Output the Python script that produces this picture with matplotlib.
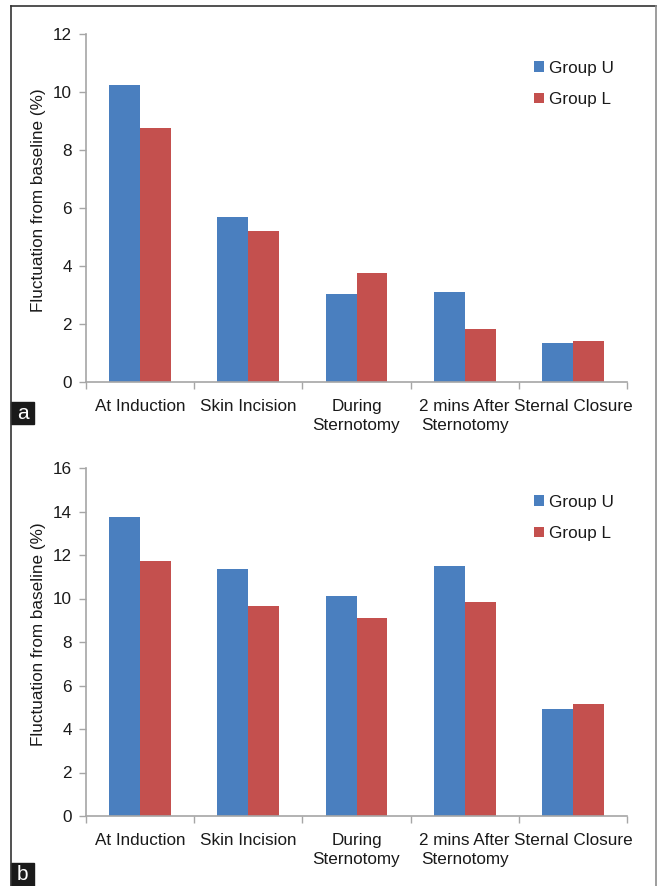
import numpy as np
import matplotlib
matplotlib.use('Agg')
from matplotlib import pyplot as plt
from matplotlib.patches import Rectangle
from matplotlib.lines import Line2D

plt.rcParams['font.family'] = ['Liberation Sans', 'DejaVu Sans']

categories = ['At Induction', 'Skin Incision', 'During\nSternotomy',
              '2 mins After\nSternotomy', 'Sternal Closure']
series_names = ['Group U', 'Group L']

# panel a
a_group_u = [10.24, 5.69, 3.03, 3.10, 1.34]
a_group_l = [8.76, 5.21, 3.76, 1.83, 1.41]
# panel b
b_group_u = [13.75, 11.36, 10.11, 11.49, 4.92]
b_group_l = [11.72, 9.66, 9.10, 9.84, 5.15]

panels = [('a', a_group_u, a_group_l, 12), ('b', b_group_u, b_group_l, 16)]

blue = '#4A7FBF'
red = '#C4504E'
axis_grey = '#A6A6A6'
fs = 12.3

W, H = 657, 886
fig = plt.figure(figsize=(W / 100, H / 100), dpi=100)

def fx(px):
    return px / W

def fy(py):
    return 1 - py / H

# axes boxes in pixels: left, top, right, bottom
boxes = [(86, 34, 627, 382), (86, 468, 627, 816)]
label_boxes = [(11, 402, 34, 424), (11, 863, 34, 886)]

x = np.arange(len(categories))
bw = 0.286

for (name, u, l, ymax), (l0, t0, r0, b0), (lx0, ly0, lx1, ly1) in zip(panels, boxes, label_boxes):
    ax = fig.add_axes([fx(l0), fy(b0), fx(r0 - l0), (b0 - t0) / H])
    ax.bar(x - bw / 2, u, bw, color=blue, label=series_names[0])
    ax.bar(x + bw / 2, l, bw, color=red, label=series_names[1])
    ax.set_xlim(-0.5, len(categories) - 0.5)
    ax.set_ylim(0, ymax)
    ax.set_yticks(np.arange(0, ymax + 1, 2))
    ax.set_xticks(np.arange(-0.5, len(categories), 1))
    ax.set_xticklabels([])
    ax.set_xticks(x, minor=True)
    ax.set_xticklabels(categories, minor=True, fontsize=fs, color='#1a1a1a',
                       linespacing=1.35)
    ax.tick_params(axis='x', which='minor', length=0, pad=12)
    ax.tick_params(axis='x', which='major', length=5, width=1, color=axis_grey,
                   direction='out')
    ax.tick_params(axis='y', length=5, width=1, color=axis_grey, labelsize=fs,
                   labelcolor='#1a1a1a', pad=5)
    for s in ['top', 'right']:
        ax.spines[s].set_visible(False)
    for s in ['left', 'bottom']:
        ax.spines[s].set_color(axis_grey)
        ax.spines[s].set_linewidth(1.2)
    ax.set_ylabel('Fluctuation from baseline (%)', fontsize=fs, color='#1a1a1a')
    ax.yaxis.set_label_coords(-0.074, 0.523)
    leg = ax.legend(loc='upper left', bbox_to_anchor=(0.828, 0.923), frameon=False,
                    fontsize=fs, handlelength=0.6, handleheight=0.6,
                    handletextpad=0.3, labelspacing=0.95, borderpad=0,
                    borderaxespad=0)
    for t in leg.get_texts():
        t.set_color('#1a1a1a')
    # panel letter
    fig.patches.append(Rectangle((fx(lx0), fy(ly1)), fx(lx1 - lx0), (ly1 - ly0) / H,
                                 transform=fig.transFigure, color='#1a1a1a'))
    fig.text(fx((lx0 + lx1) / 2), fy((ly0 + ly1) / 2), name, color='white',
             fontsize=15, ha='center', va='center')

# outer frame
fig.lines.append(Line2D([fx(11), fx(11)], [0, fy(6)], transform=fig.transFigure,
                        color='#333333', lw=1.2))
fig.lines.append(Line2D([fx(11), fx(656)], [fy(6), fy(6)], transform=fig.transFigure,
                        color='#333333', lw=1.2))
fig.lines.append(Line2D([fx(656), fx(656)], [0, fy(6)], transform=fig.transFigure,
                        color='#8c8c8c', lw=1.2))

fig.savefig('out.png', dpi=100)
